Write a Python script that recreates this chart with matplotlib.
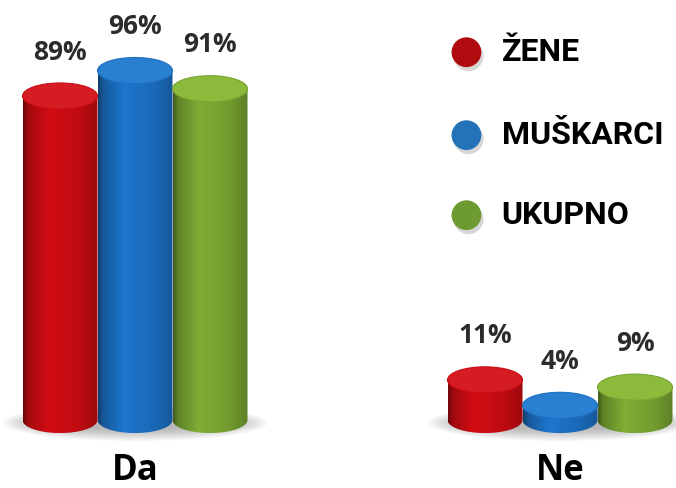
import numpy as np
import matplotlib
matplotlib.use("Agg")
import matplotlib.pyplot as plt
from matplotlib.patches import Ellipse, PathPatch
from matplotlib.path import Path
from matplotlib.colors import to_rgb

# data
groups = ["Da", "Ne"]
series = ["ŽENE", "MUŠKARCI", "UKUPNO"]
values = [[89, 96, 91],   # Da
          [11, 4, 9]]     # Ne
labels = [["89%", "96%", "91%"],
          ["11%", "4%", "9%"]]

# styling
body_colors = ["#c80c12", "#1c6fc2", "#78a432"]
top_colors = ["#d41c22", "#2a80d0", "#8cbb3c"]
legend_colors = ["#b00c10", "#2472b8", "#6e9a32"]
group_x = [135, 560]     # group centres (pixel-like units on x)
bar_w = 75
ry = 3.6                 # half height of the cylinder ellipses, in % units


def shaded(color, n=256):
    # horizontal shading across the cylinder body
    t = np.linspace(0, 1, n)
    lum = np.interp(t, [0, 0.07, 0.35, 0.75, 1], [0.55, 0.8, 1.06, 0.95, 0.78])
    rgb = np.array(to_rgb(color))[None, :] * lum[:, None]
    return np.clip(rgb, 0, 1)[None, :, :]


def cylinder(ax, xc, v, i):
    x0, x1 = xc - bar_w / 2, xc + bar_w / 2
    ang = np.linspace(np.pi, 2 * np.pi, 60)
    pts = list(zip(xc + bar_w / 2 * np.cos(ang), ry * np.sin(ang)))
    pts += [(x1, v), (x0, v), pts[0]]
    clip = PathPatch(Path(pts), transform=ax.transData, facecolor="none", edgecolor="none")
    ax.add_patch(clip)
    im = ax.imshow(shaded(body_colors[i]), extent=[x0, x1, -ry, v], aspect="auto",
                   interpolation="bilinear", zorder=3)
    im.set_clip_path(clip)
    top = Ellipse((xc, v), bar_w, 2 * ry, facecolor=top_colors[i],
                  edgecolor=body_colors[i], lw=0.8, zorder=4)
    ax.add_patch(top)


fig = plt.figure(figsize=(6.76, 4.88), dpi=100)
ax = fig.add_axes([0, 0, 1, 1])
ax.set_xlim(0, 676)
ax.set_ylim(-18.7, 115.4)
ax.axis("off")

# soft shadows under each group
for gx in group_x:
    for k in range(14):
        ax.add_patch(Ellipse((gx, -0.8), 3 * bar_w + 40 - k * 6, 10 - k * 0.5,
                             facecolor="#707070", edgecolor="none", alpha=0.045, zorder=1))

for g, gx in enumerate(group_x):
    for i in range(len(series)):
        xc = gx + (i - 1) * bar_w
        v = values[g][i]
        cylinder(ax, xc, v, i)
        ax.text(xc, v + ry + 4.8, labels[g][i], ha="center", va="bottom",
                fontsize=19, fontweight="bold", color="#2b2b2b", family="Open Sans", zorder=5)
    ax.text(gx, -13.9, groups[g], ha="center", va="center", fontsize=25,
            fontweight="bold", color="black", family="Open Sans")

# legend
leg_y = [0.893, 0.723, 0.559]
for i, name in enumerate(series):
    ax.scatter([0.693], [leg_y[i] - 0.008], s=470, color="#b0b0b0", alpha=0.5,
               transform=ax.transAxes, zorder=5, edgecolors="none")
    ax.scatter([0.690], [leg_y[i]], s=460, color=legend_colors[i], transform=ax.transAxes,
               zorder=6, edgecolors="none")
    ax.text(0.742, leg_y[i], name, ha="left", va="center", fontsize=23, fontweight="bold",
            color="black", family="Roboto", transform=ax.transAxes)

fig.savefig("out.png", dpi=100)
